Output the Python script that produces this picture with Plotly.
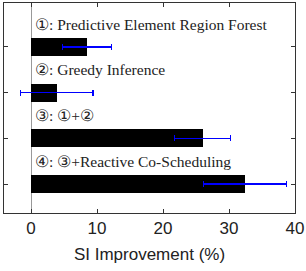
import plotly.graph_objects as go

positions = [1, 2, 3, 4]
improvement = [8.5, 3.9, 26.0, 32.4]
error = [3.7, 5.5, 4.25, 6.3]
labels = [
    "①: Predictive Element Region Forest",
    "②: Greedy Inference",
    "③: ①+②",
    "④: ③+Reactive Co-Scheduling",
]
x_ticks = [0, 10, 20, 30, 40]

fig = go.Figure()
fig.add_trace(go.Bar(
    x=improvement, y=positions, orientation="h", width=0.4,
    marker=dict(color="black", line=dict(width=0)),
    error_x=dict(type="data", array=error, visible=True, color="#0000ff",
                 thickness=1.3, width=3),
    showlegend=False,
))
for p, t in zip(positions, labels):
    fig.add_annotation(x=0.3, y=p - 0.5, text=t, showarrow=False,
                       xanchor="left", yanchor="middle",
                       font=dict(family="Liberation Serif", size=15.5, color="#222"))

fig.update_layout(
    width=306, height=271,
    margin=dict(l=4, r=11, t=3, b=58, autoexpand=False),
    plot_bgcolor="white", paper_bgcolor="white",
    bargap=0,
)
fig.update_xaxes(
    range=[-4.1, 40], tickvals=x_ticks, ticks="inside", ticklen=4,
    tickcolor="#333", mirror="ticks", showline=True, linecolor="#333", linewidth=1,
    showgrid=False, zeroline=True, zerolinecolor="#999", zerolinewidth=1,
    automargin=False,
    tickfont=dict(family="Liberation Sans", size=17, color="#222"),
    title=dict(text="SI Improvement (%)", standoff=10,
               font=dict(family="Liberation Sans", size=17, color="#222")),
)
fig.update_yaxes(
    range=[4.635, 0.037], tickvals=positions, showticklabels=False,
    automargin=False,
    ticks="inside", ticklen=4, tickcolor="#333", mirror="ticks",
    showline=True, linecolor="#333", linewidth=1, showgrid=False, zeroline=False,
)
fig.write_html("out.html", config={"displayModeBar": False},
               post_script="document.body.style.margin='0';")
